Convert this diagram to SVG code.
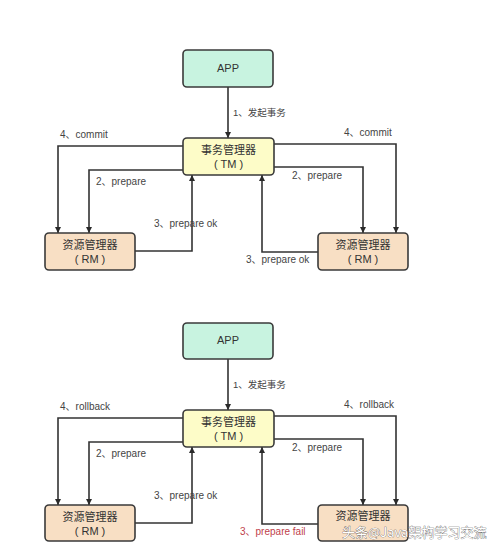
<svg xmlns="http://www.w3.org/2000/svg" width="500" height="548" viewBox="0 0 500 548">
<style>
.box{stroke:#3a3a3a;stroke-width:1.6}
.app{fill:#c8f3e0}
.tm{fill:#fdfcc8}
.rm{fill:#f8dfc4}
.t{font-family:"Liberation Sans","Noto Sans CJK SC",sans-serif;font-size:11px;fill:#333;text-anchor:middle}
.l{font-family:"Liberation Sans","Noto Sans CJK SC",sans-serif;font-size:10px;fill:#444}
.red{fill:#c0404a}
.c{fill:none;stroke:#333;stroke-width:1.6}
.wm{font-family:"Noto Sans CJK SC",sans-serif;font-size:13px;fill:#fff;stroke:#555;stroke-width:0.6;paint-order:stroke}
</style>
<defs>
<marker id="ah" viewBox="0 0 10 10" refX="10" refY="5" markerWidth="6" markerHeight="7" markerUnits="userSpaceOnUse" orient="auto">
<path d="M0,0 L10,5 L0,10 z" fill="#2a2a2a"/>
</marker>
</defs>
<rect width="500" height="548" fill="#fff"/>

<g id="connectors">
<path class="c" d="M228,87 V138" marker-end="url(#ah)"/>
<path class="c" d="M183,146 H58 V233" marker-end="url(#ah)"/>
<path class="c" d="M183,170 H89 V233" marker-end="url(#ah)"/>
<path class="c" d="M135,251 H192 V175" marker-end="url(#ah)"/>
<path class="c" d="M274,144 H396 V233" marker-end="url(#ah)"/>
<path class="c" d="M274,167 H363 V233" marker-end="url(#ah)"/>
<path class="c" d="M318,252 H262 V175" marker-end="url(#ah)"/>

<path class="c" d="M228,359 V410" marker-end="url(#ah)"/>
<path class="c" d="M183,418 H58 V505" marker-end="url(#ah)"/>
<path class="c" d="M183,442 H89 V505" marker-end="url(#ah)"/>
<path class="c" d="M135,523 H192 V447" marker-end="url(#ah)"/>
<path class="c" d="M274,416 H396 V505" marker-end="url(#ah)"/>
<path class="c" d="M274,439 H363 V505" marker-end="url(#ah)"/>
<path class="c" d="M318,524 H262 V447" marker-end="url(#ah)"/>
</g>

<g id="labels">
<text class="l" x="233" y="116" style="font-size:9.5px">1、发起事务</text>
<text class="l" x="60" y="138">4、commit</text>
<text class="l" x="96" y="185">2、prepare</text>
<text class="l" x="154" y="227">3、prepare ok</text>
<text class="l" x="344" y="136">4、commit</text>
<text class="l" x="292" y="179">2、prepare</text>
<text class="l" x="246" y="263">3、prepare ok</text>

<text class="l" x="233" y="388" style="font-size:9.5px">1、发起事务</text>
<text class="l" x="60" y="410">4、rollback</text>
<text class="l" x="96" y="457">2、prepare</text>
<text class="l" x="154" y="499">3、prepare ok</text>
<text class="l" x="344" y="408">4、rollback</text>
<text class="l" x="292" y="451">2、prepare</text>
<text class="l red" x="240" y="535">3、prepare fail</text>
</g>

<g id="app1"><rect class="box app" x="183" y="50" width="90" height="37" rx="4"/><text class="t" x="228" y="72">APP</text></g>
<g id="tm1"><rect class="box tm" x="183" y="138" width="91" height="37" rx="4"/><text class="t" x="228.5" y="154">事务管理器</text><text class="t" x="228.5" y="168">( TM )</text></g>
<g id="rm1a"><rect class="box rm" x="45" y="233" width="90" height="37" rx="4"/><text class="t" x="90" y="249">资源管理器</text><text class="t" x="90" y="263">( RM )</text></g>
<g id="rm1b"><rect class="box rm" x="318" y="233" width="90" height="37" rx="4"/><text class="t" x="363" y="249">资源管理器</text><text class="t" x="363" y="263">( RM )</text></g>

<g id="app2"><rect class="box app" x="183" y="323" width="90" height="36" rx="4"/><text class="t" x="228" y="344">APP</text></g>
<g id="tm2"><rect class="box tm" x="183" y="410" width="91" height="37" rx="4"/><text class="t" x="228.5" y="426">事务管理器</text><text class="t" x="228.5" y="440">( TM )</text></g>
<g id="rm2a"><rect class="box rm" x="45" y="505" width="90" height="36" rx="4"/><text class="t" x="90" y="521">资源管理器</text><text class="t" x="90" y="535">( RM )</text></g>
<g id="rm2b"><rect class="box rm" x="318" y="505" width="90" height="36" rx="4"/><text class="t" x="363" y="520">资源管理器</text></g>

<text class="wm" x="342" y="537">头条@Java架构学习交流</text>
</svg>
